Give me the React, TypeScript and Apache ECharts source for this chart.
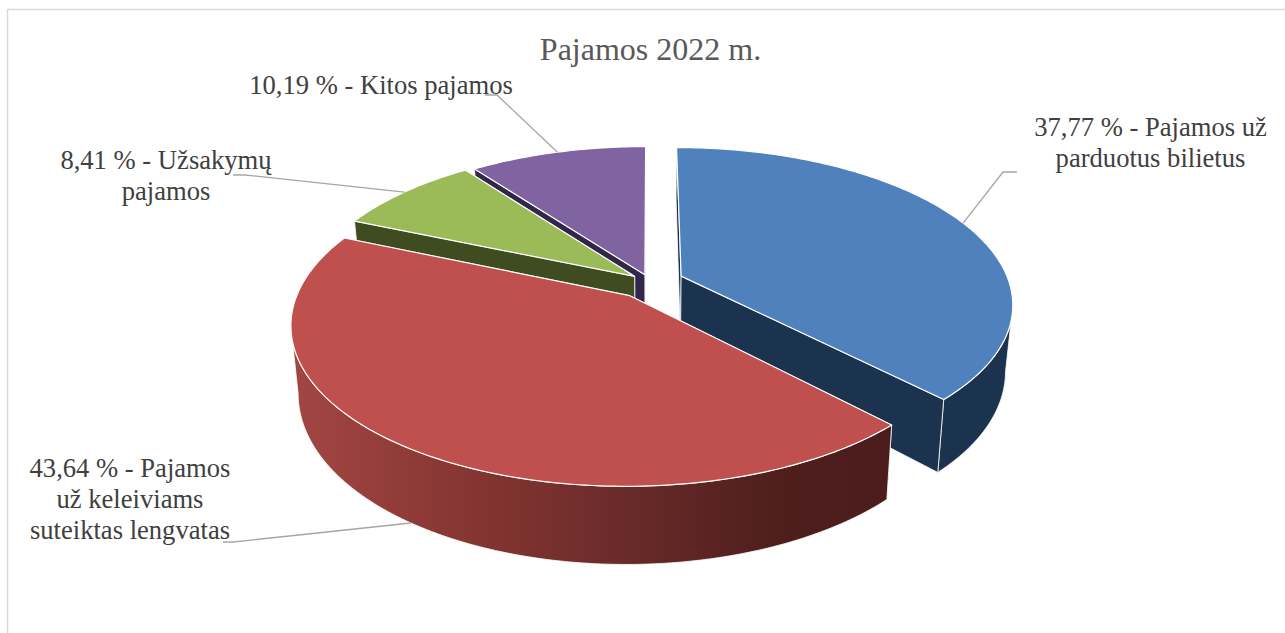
import React, { useEffect, useRef } from "react";
import * as echarts from "echarts";

// ---- data -------------------------------------------------------------
const shares = [37.77, 43.64, 8.41, 10.19];
const labels = [
  "37,77 % - Pajamos už\nparduotus bilietus",
  "43,64 % - Pajamos\nuž keleiviams\nsuteiktas lengvatas",
  "8,41 % - Užsakymų\npajamos",
  "10,19 % - Kitos pajamos",
];
const titleText = "Pajamos 2022 m.";

// ---- styling / layout (not data) --------------------------------------
const topColors = ["#4f81bd", "#c0504d", "#9bbb59", "#8064a2"];
const cutColors = ["#1c334f", "#4b1d1c", "#3f4c20", "#32264a"];
const explode = [0.103, 0.107, 0.06, 0.05];
const labelAnchors = [
  [1150.5, 142],
  [130, 499],
  [166, 175.5],
  [381, 85],
];
const leaderStarts = [
  [[1017, 172], [1003, 172]],
  [[223, 542], [233, 542]],
  [[233, 175], [245, 175]],
  [[485, 95], [497, 95]],
];

const CX = 650;
const CY = 282;
const RX = 328;
const RY = 152.6;
const PERSP = 0.172;
const SHRINK = 0.98;
const DEPTH0 = 64;
const DEPTH_K = 13;
const SERIF = '"Liberation Serif", "Times New Roman", serif';

const project = (X: number, Y: number) => {
  const w = 1 - PERSP * Y;
  return [CX + (RX * X) / w, CY + (RY * Y) / w];
};
const lower = (X: number, Y: number) => {
  const p = project(X, Y);
  return [CX + (p[0] - CX) * SHRINK, p[1] + DEPTH0 + DEPTH_K * Y];
};

const total = shares.reduce((a, b) => a + b, 0);
const spans = (() => {
  let acc = 0;
  return shares.map((v) => {
    const a0 = (acc / total) * Math.PI * 2;
    acc += v;
    return [a0, (acc / total) * Math.PI * 2];
  });
})();
const depthRank = spans
  .map((s, i) => ({ i, y: -Math.cos((s[0] + s[1]) / 2) }))
  .sort((a, b) => a.y - b.y)
  .map((d) => d.i);

const renderSlice = (params: any) => {
  const i = params.dataIndex;
  const [a0, a1] = spans[i];
  const mid = (a0 + a1) / 2;
  const ox = explode[i] * Math.sin(mid);
  const oy = -explode[i] * Math.cos(mid);
  const rim = (a: number) => [ox + Math.sin(a), oy - Math.cos(a)];
  const steps = Math.max(8, Math.ceil(((a1 - a0) * 180) / Math.PI));
  const angles: number[] = [];
  for (let k = 0; k <= steps; k++) angles.push(a0 + ((a1 - a0) * k) / steps);

  const topRim = angles.map((a) => project(rim(a)[0], rim(a)[1]));
  const lowRim = angles.map((a) => lower(rim(a)[0], rim(a)[1]));
  // The outer wall only shows where the rim runs right-to-left on screen.
  const visible = angles
    .map((_, k) => k)
    .filter(
      (k) =>
        (k > 0 && topRim[k][0] < topRim[k - 1][0]) ||
        (k < angles.length - 1 && topRim[k + 1][0] < topRim[k][0])
    );
  const base = (depthRank.indexOf(i) + 1) * 10;
  const edge = { stroke: "#ffffff", lineWidth: 0.8, lineJoin: "round" };

  // A cut face is drawn over the outer wall only when it faces the viewer.
  const cut = (a: number, facing: boolean) => {
    const r = rim(a);
    return {
      type: "polygon",
      z2: base + (facing ? 3 : 1),
      shape: {
        points: [project(ox, oy), project(r[0], r[1]), lower(r[0], r[1]), lower(ox, oy)],
      },
      style: { fill: cutColors[i], ...edge },
    };
  };

  const wallFill =
    i === 1
      ? {
          type: "linear",
          x: 0,
          y: 0,
          x2: 1,
          y2: 0,
          colorStops: [
            { offset: 0, color: "#a34643" },
            { offset: 0.3, color: "#853532" },
            { offset: 0.55, color: "#6a2b29" },
            { offset: 0.8, color: "#4f1f1e" },
            { offset: 1, color: "#4b1c1b" },
          ],
        }
      : cutColors[i];

  const anchor =
    i === 1
      ? lower(rim(mid)[0], rim(mid)[1])
      : project(rim(mid)[0], rim(mid)[1]);

  const children: any[] = [
    cut(a0, Math.sin(a0) < 0),
    cut(a1, Math.sin(a1) > 0),
  ];
  if (visible.length > 1) {
    children.push({
      type: "polygon",
      z2: base + 2,
      shape: {
        points: [
          ...visible.map((k) => topRim[k]),
          ...[...visible].reverse().map((k) => lowRim[k]),
        ],
      },
      style: { fill: wallFill, ...edge },
    });
  }
  children.push(
    {
      type: "polygon",
      z2: base + 4,
      shape: { points: [project(ox, oy), ...topRim] },
      style: { fill: topColors[i], stroke: "#ffffff", lineWidth: 1.2, lineJoin: "round" },
    },
    {
      type: "polyline",
      z2: 60,
      shape: { points: [...leaderStarts[i], anchor] },
      style: { fill: "none", stroke: "#a6a6a6", lineWidth: 1.3 },
    },
    {
      type: "text",
      z2: 70,
      style: {
        text: labels[i],
        x: labelAnchors[i][0],
        y: labelAnchors[i][1],
        align: "center",
        verticalAlign: "middle",
        fontFamily: SERIF,
        fontSize: 26.6,
        lineHeight: 31,
        fill: "#404040",
      },
    }
  );
  return { type: "group", children };
};

export default function App() {
  const ref = useRef<HTMLDivElement>(null);
  useEffect(() => {
    const chart = echarts.init(ref.current!, undefined, { renderer: "svg" });
    chart.setOption({
      animation: false,
      backgroundColor: "#ffffff",
      title: {
        text: titleText,
        left: 645.5,
        top: 28,
        textAlign: "center",
        textStyle: { fontFamily: SERIF, fontSize: 32, fontWeight: "normal", color: "#595959" },
      },
      graphic: [
        {
          type: "rect",
          silent: true,
          z: -1,
          shape: { x: 7.5, y: 9.5, width: 1500, height: 900 },
          style: { fill: "#ffffff", stroke: "#d9d9d9", lineWidth: 1.5 },
        },
      ],
      series: [
        {
          type: "custom",
          coordinateSystem: "none",
          silent: true,
          clip: false,
          data: shares,
          renderItem: renderSlice,
        },
      ],
    });
    return () => chart.dispose();
  }, []);
  return (
    <div
      ref={ref}
      style={{ position: "absolute", left: 0, top: 0, width: 1285, height: 633 }}
    />
  );
}
